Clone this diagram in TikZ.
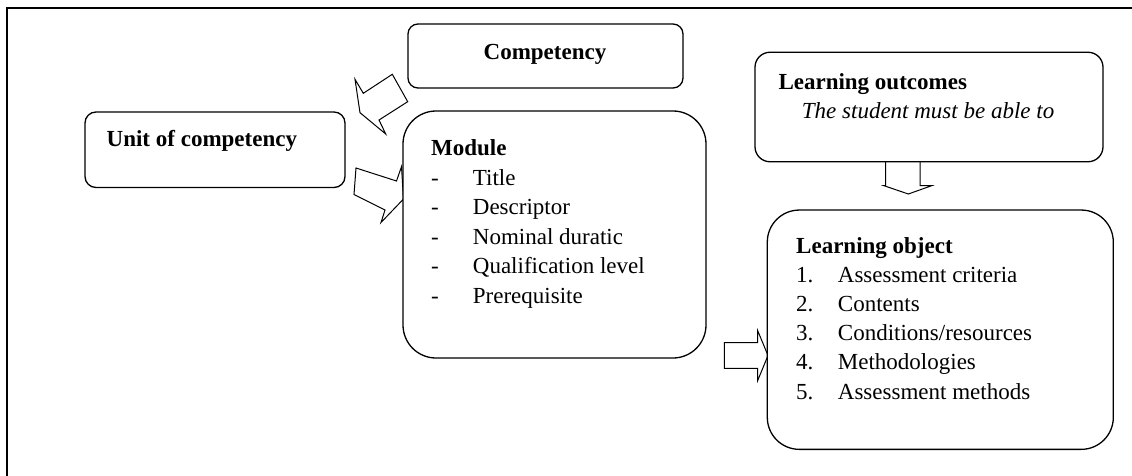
\documentclass[tikz,border=0pt]{standalone}
\usepackage{fontspec}
\setmainfont{Liberation Serif}
\begin{document}
\begin{tikzpicture}[x=1pt,y=-1pt,
  box/.style={draw=black,line width=1.3pt,fill=white,inner sep=0pt},
  blockarrow/.style={draw=black,line width=1pt,fill=white,line join=miter},
  txt/.style={anchor=base west,inner sep=0pt,font=\fontsize{23}{28}\selectfont},
  btxt/.style={txt,font=\fontsize{23}{28}\selectfont\bfseries}]
\useasboundingbox (0,0) rectangle (1132,476);
% frame
\draw[line width=2pt] (6.5,476) -- (6.5,8.5) -- (1132,8.5);
% arrows behind boxes
\draw[blockarrow] (392.3,74.3) -- (363.3,93.3) -- (355,79.3) -- (360,112.7) -- (385.7,134) -- (379,120) -- (407.7,101.7) -- cycle;
\draw[blockarrow] (356,168) -- (396.5,181) -- (401.5,166.7) -- (403.5,199) -- (381,222.5) -- (385,210) -- (354,194.5) -- cycle;
\draw[blockarrow] (724.3,342.7) -- (757.7,342.7) -- (757.7,330.7) -- (768,355.5) -- (757.7,380.5) -- (757.7,368.3) -- (724.3,368.3) -- cycle;
\draw[blockarrow] (885.7,161.7) -- (885.7,185.7) -- (884,185.7) -- (908.3,194) -- (931.7,185.7) -- (920,185.7) -- (920,161.7);
% boxes
\node[box,rounded corners=10pt,minimum width=275pt,minimum height=64pt] (comp) at (545.5,56) {};
\node[box,rounded corners=11pt,minimum width=260pt,minimum height=75.5pt] (unit) at (215,149.75) {};
\node[box,rounded corners=33pt,minimum width=303pt,minimum height=247pt] (mod) at (554.5,234.5) {};
\node[box,rounded corners=15pt,minimum width=348pt,minimum height=109.5pt] (lout) at (929,107) {};
\node[box,rounded corners=32pt,minimum width=346pt,minimum height=239.3pt] (lobj) at (940.3,329.7) {};
% texts
\node[btxt,anchor=base] (tcomp) at (545,60) {Competency};
\node[btxt] (tunit) at (106.5,146.7) {Unit of competency};
\node[btxt] (tmod) at (431,156) {Module};
\node[txt] (d1) at (431,185) {-};
\node[txt] (m1) at (472.7,185) {Title};
\node[txt] (d2) at (431,214.5) {-};
\node[txt] (m2) at (472.7,214.5) {Descriptor};
\node[txt] (d3) at (431,244) {-};
\node[txt] (m3) at (472.7,244) {Nominal duratic};
\node[txt] (d4) at (431,273.5) {-};
\node[txt] (m4) at (472.7,273.5) {Qualification level};
\node[txt] (d5) at (431,303) {-};
\node[txt] (m5) at (472.7,303) {Prerequisite};
\node[btxt] (tlout) at (778.3,90) {Learning outcomes};
\node[txt,font=\fontsize{23}{28}\selectfont\itshape] (tstud) at (801.7,118.3) {The student must be able to};
\node[btxt] (tlobj) at (796,253.3) {Learning object};
\node[txt] (n1) at (796,282) {1.};
\node[txt] (o1) at (837.7,282) {Assessment criteria};
\node[txt] (n2) at (796,311.3) {2.};
\node[txt] (o2) at (837.7,311.3) {Contents};
\node[txt] (n3) at (796,340.6) {3.};
\node[txt] (o3) at (837.7,340.6) {Conditions/resources};
\node[txt] (n4) at (796,369.9) {4.};
\node[txt] (o4) at (837.7,369.9) {Methodologies};
\node[txt] (n5) at (796,399.2) {5.};
\node[txt] (o5) at (837.7,399.2) {Assessment methods};
\end{tikzpicture}
\end{document}
